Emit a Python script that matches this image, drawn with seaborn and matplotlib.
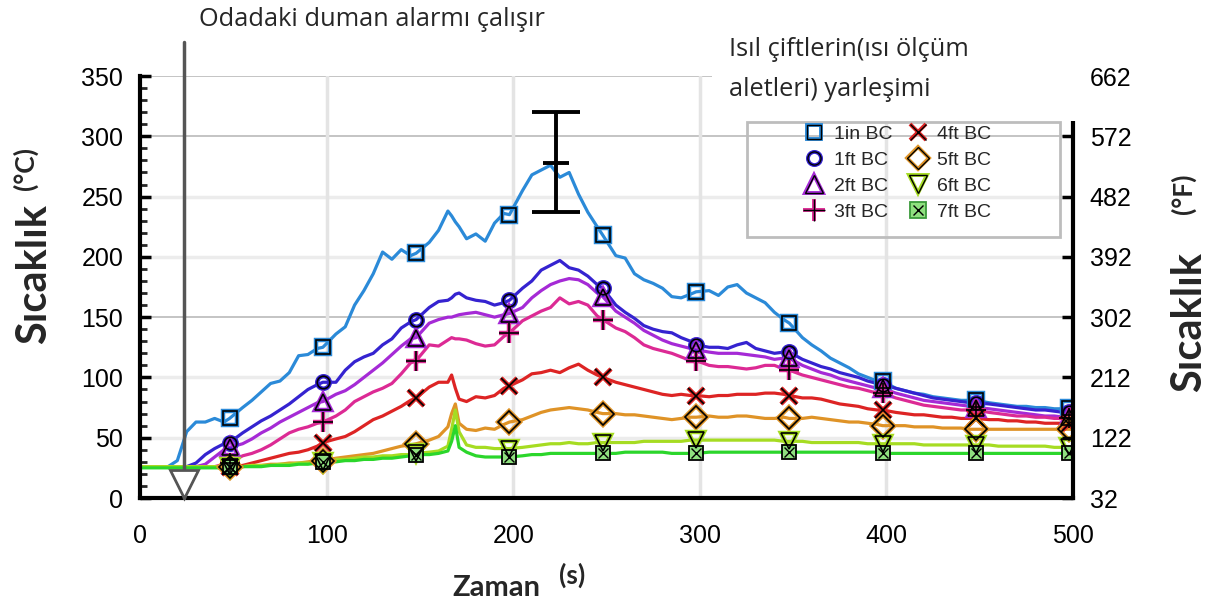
import matplotlib
matplotlib.use("Agg")
import matplotlib.pyplot as plt
import numpy as np
import pandas as pd
import seaborn as sns
from matplotlib.lines import Line2D
from matplotlib.patches import Rectangle

# zaman ekseni (s)
t = [0, 5, 10, 15, 20, 25, 30, 35, 40, 45,
     48, 55, 60, 65, 70, 75, 80, 85, 90, 95,
     98, 105, 110, 115, 120, 125, 130, 135, 140, 145,
     148, 155, 160, 165, 167, 169, 171, 175, 180, 185,
     190, 195, 198, 205, 210, 215, 220, 225, 230, 235,
     240, 245, 248, 255, 260, 265, 270, 275, 280, 285,
     290, 295, 298, 305, 310, 315, 320, 325, 330, 335,
     340, 345, 348, 355, 360, 365, 370, 375, 380, 385,
     390, 395, 398, 405, 410, 415, 420, 425, 430, 435,
     440, 445, 448, 455, 460, 465, 470, 475, 480, 485,
     490, 495, 498, 500]

bc_1in = [26, 26, 26, 26, 31, 55, 63, 63, 66, 63,
          66, 75, 81, 88, 95, 97, 104, 118, 119, 124,
          125, 136, 142, 160, 172, 186, 204, 198, 206, 201,
          203, 212, 222, 238, 234, 229, 225, 215, 219, 213,
          228, 236, 235, 255, 268, 272, 276, 266, 270, 252,
          237, 225, 218, 201, 199, 186, 181, 178, 174, 167,
          166, 169, 171, 172, 168, 175, 177, 170, 166, 162,
          154, 148, 145, 133, 127, 122, 116, 112, 108, 103,
          100, 97, 97, 91, 89, 87, 86, 84, 83, 82,
          81, 81, 81, 79, 78, 77, 76, 76, 75, 75,
          74, 74, 75, 73]
bc_1ft = [26, 26, 26, 26, 26, 26, 29, 36, 41, 45,
          46, 54, 59, 64, 68, 73, 78, 84, 90, 94,
          96, 96, 106, 113, 117, 120, 127, 132, 141, 146,
          148, 158, 163, 164, 166, 169, 170, 166, 164, 163,
          160, 162, 164, 174, 180, 189, 193, 197, 191, 189,
          184, 177, 174, 160, 154, 149, 143, 140, 138, 137,
          133, 130, 127, 125, 125, 124, 127, 129, 124, 122,
          120, 121, 121, 115, 112, 109, 107, 104, 102, 100,
          97, 95, 94, 91, 89, 87, 85, 83, 82, 81,
          80, 79, 79, 78, 77, 76, 75, 74, 73, 73,
          72, 71, 71, 71]
bc_2ft = [26, 26, 26, 26, 26, 26, 26, 28, 34, 40,
          42, 45, 49, 54, 58, 63, 67, 71, 75, 79,
          80, 86, 89, 94, 100, 106, 112, 119, 126, 132,
          133, 145, 148, 150, 150, 151, 152, 153, 154, 152,
          150, 152, 153, 158, 166, 172, 177, 180, 182, 181,
          177, 170, 167, 155, 150, 145, 139, 135, 131, 128,
          126, 124, 123, 121, 120, 120, 120, 119, 118, 117,
          115, 116, 116, 110, 107, 104, 102, 99, 97, 95,
          93, 91, 91, 87, 85, 83, 81, 80, 79, 78,
          77, 76, 75, 74, 73, 72, 71, 70, 69, 68,
          68, 67, 67, 67]
bc_3ft = [26, 26, 26, 26, 26, 26, 26, 26, 26, 28,
          29, 35, 37, 40, 44, 49, 54, 57, 59, 62,
          63, 68, 73, 80, 84, 88, 91, 95, 103, 112,
          114, 127, 126, 131, 133, 132, 132, 131, 128, 126,
          127, 134, 137, 147, 151, 155, 158, 166, 161, 163,
          160, 151, 148, 141, 138, 133, 127, 124, 122, 120,
          117, 114, 114, 110, 109, 109, 108, 107, 108, 110,
          110, 107, 106, 102, 100, 98, 96, 94, 92, 91,
          89, 87, 87, 83, 81, 79, 77, 76, 75, 74,
          73, 73, 73, 71, 70, 69, 68, 68, 67, 67,
          66, 66, 66, 65]
bc_4ft = [26, 26, 26, 26, 26, 26, 26, 26, 26, 26,
          26, 27, 29, 31, 33, 35, 37, 38, 40, 43,
          46, 49, 51, 55, 60, 65, 68, 72, 76, 81,
          83, 92, 96, 96, 102, 91, 82, 80, 84, 83,
          85, 91, 93, 98, 103, 104, 106, 104, 108, 111,
          106, 102, 100, 96, 94, 92, 90, 88, 86, 85,
          86, 85, 85, 84, 85, 85, 86, 86, 86, 87,
          87, 86, 85, 83, 83, 82, 80, 78, 77, 76,
          74, 73, 73, 71, 70, 69, 69, 68, 67, 67,
          66, 66, 66, 65, 65, 64, 64, 63, 63, 62,
          62, 62, 61, 61]
bc_5ft = [26, 26, 26, 26, 26, 26, 26, 26, 26, 26,
          26, 26, 27, 27, 28, 28, 29, 29, 30, 31,
          31, 33, 34, 35, 36, 37, 39, 41, 43, 44,
          45, 48, 51, 59, 70, 78, 62, 57, 56, 58,
          57, 61, 63, 65, 68, 71, 73, 74, 75, 74,
          73, 71, 70, 70, 69, 69, 68, 67, 66, 65,
          66, 67, 67, 68, 67, 67, 68, 68, 67, 66,
          66, 67, 66, 66, 67, 66, 65, 64, 63, 63,
          62, 61, 60, 60, 60, 59, 59, 59, 58, 58,
          58, 57, 57, 57, 57, 57, 57, 57, 57, 57,
          57, 57, 57, 57]
bc_6ft = [26, 26, 26, 26, 26, 26, 26, 26, 26, 26,
          26, 26, 27, 27, 27, 28, 28, 29, 29, 30,
          30, 32, 32, 33, 34, 34, 35, 35, 36, 36,
          37, 38, 39, 43, 57, 73, 55, 44, 42, 42,
          41, 41, 41, 42, 43, 44, 45, 45, 46, 45,
          45, 46, 46, 46, 46, 46, 47, 47, 47, 47,
          47, 48, 48, 48, 48, 48, 48, 48, 48, 48,
          48, 47, 47, 47, 46, 46, 46, 46, 46, 46,
          45, 45, 45, 45, 45, 45, 44, 44, 44, 44,
          44, 44, 44, 44, 43, 43, 43, 43, 43, 43,
          42, 42, 42, 42]
bc_7ft = [25, 25, 25, 25, 25, 25, 25, 25, 25, 25,
          26, 26, 26, 26, 27, 27, 27, 28, 28, 29,
          30, 30, 31, 31, 32, 32, 33, 33, 34, 35,
          36, 36, 37, 39, 47, 60, 42, 38, 35, 34,
          34, 34, 34, 35, 36, 36, 37, 37, 37, 37,
          37, 37, 37, 37, 38, 38, 38, 38, 38, 37,
          37, 37, 37, 38, 38, 38, 38, 38, 38, 38,
          38, 38, 38, 38, 38, 38, 38, 38, 38, 38,
          38, 38, 37, 37, 37, 37, 37, 37, 37, 37,
          37, 37, 37, 37, 37, 37, 37, 37, 37, 37,
          37, 37, 37, 36]

labels = ["1in BC", "1ft BC", "2ft BC", "3ft BC", "4ft BC", "5ft BC", "6ft BC", "7ft BC"]
series = [bc_1in, bc_1ft, bc_2ft, bc_3ft, bc_4ft, bc_5ft, bc_6ft, bc_7ft]
colors = ["#2b8ad8", "#3523d0", "#a52ad6", "#dc2a94", "#dd2424", "#df9327", "#a6dc22", "#2bd62b"]
markers = ["s", "o", "^", "+", "x", "D", "v", "s"]
msizes = [10, 9, 12, 15, 11, 11, 12, 10]
marker_t = [48, 98, 148, 198, 248, 298, 348, 398, 448, 498]

# duman alarmi ve hata cubugu
alarm_t = 23.5
alarm_mark = 12
err_t = [223]
err_mid = [278]
err_lo = [237]
err_hi = [320]

c_ticks = [0, 50, 100, 150, 200, 250, 300, 350]
f_ticks = [32, 122, 212, 302, 392, 482, 572, 662]
x_ticks = [0, 100, 200, 300, 400, 500]

df = pd.DataFrame({
    "t": t * len(labels),
    "temp": sum(series, []),
    "sensor": np.repeat(labels, len(t)),
})

sns.set_theme(style="white")
plt.rcParams["font.family"] = ["Liberation Sans", "DejaVu Sans"]

W, H = 1212, 603
fig = plt.figure(figsize=(W / 100, H / 100), dpi=100)
ax = fig.add_axes([140 / W, 1 - 498 / H, (1073 - 140) / W, (498 - 76) / H])

# izgara
for v in [350, 300, 150]:
    ax.axhline(v, color="#c4c4c4", lw=1.4, zorder=0)
for v in [250, 200, 100, 50]:
    ax.axhline(v, color="#ececec", lw=2.5, zorder=0)
for v in [100, 200, 300, 400]:
    ax.axvline(v, color="#e4e4e4", lw=2.5, zorder=0)

sns.lineplot(data=df, x="t", y="temp", hue="sensor", hue_order=labels,
             palette=dict(zip(labels, colors)), lw=2.3, legend=False,
             estimator=None, sort=False, ax=ax)

handles = []
for lab, col, m, ms in zip(labels, colors, markers, msizes):
    sub = df[(df.sensor == lab) & (df.t.isin(marker_t))]
    if lab == "7ft BC":
        ax.plot(sub.t, sub.temp, ls="none", marker="s", ms=ms, mfc="#8fe07f",
                mec="black", mew=1.3, zorder=5)
        ax.plot(sub.t, sub.temp, ls="none", marker="x", ms=ms * 0.7, mec="black",
                mew=1.0, zorder=6)
        h = (Line2D([], [], ls="none", marker="s", ms=11, mfc="#8fe07f", mec="#3a9a3a", mew=1.3),
             Line2D([], [], ls="none", marker="x", ms=7.5, mec="black", mew=1.0))
    else:
        ax.plot(sub.t, sub.temp, ls="none", marker=m, ms=ms, mfc="none",
                mec=col, mew=3.2, zorder=5)
        ax.plot(sub.t, sub.temp, ls="none", marker=m, ms=ms, mfc="none",
                mec="black", mew=1.2, zorder=6)
        h = (Line2D([], [], ls="none", marker=m, ms=ms * 1.05, mfc="none", mec=col, mew=2.8),
             Line2D([], [], ls="none", marker=m, ms=ms * 1.05, mfc="none", mec="black", mew=1.0))
    handles.append(h)

# hata cubugu
ax.errorbar(err_t, err_mid,
            yerr=[[m - lo for m, lo in zip(err_mid, err_lo)],
                  [hi - m for m, hi in zip(err_mid, err_hi)]],
            fmt="none", ecolor="black", elinewidth=2.8, capsize=17, capthick=2.8, zorder=7)
ax.plot(err_t, err_mid, ls="none", marker="_", ms=19, mew=2.8, color="black", zorder=7)

# duman alarmi cizgisi
ax.plot([alarm_t, alarm_t], [0, 378], color="#555555", lw=2.5, clip_on=False, zorder=4)
ax.plot([alarm_t], [alarm_mark], ls="none", marker="v", ms=20, mfc="white",
        mec="#555555", mew=2, zorder=8, clip_on=False)

ax.set_xlim(0, 500)
ax.set_ylim(0, 350)
ax.set_xticks(x_ticks)
ax.set_xticks(np.arange(0, 501, 20), minor=True)
ax.set_yticks(c_ticks)
ax.set_yticks(np.arange(0, 351, 10), minor=True)
ax.set_xlabel("")
ax.set_ylabel("")
ax.tick_params(axis="both", which="major", direction="in", length=8, width=2.5,
               labelsize=18, colors="black")
ax.tick_params(axis="both", which="minor", direction="in", length=5, width=2)
ax.tick_params(axis="x", pad=19)
ax.tick_params(axis="y", pad=12)
for s in ["left", "bottom"]:
    ax.spines[s].set_linewidth(3)
    ax.spines[s].set_color("black")
ax.spines["top"].set_visible(False)
ax.spines["right"].set_visible(False)

ax2 = ax.twinx()
ax2.set_ylim(32, 662)
ax2.set_yticks(f_ticks)
ax2.tick_params(axis="y", direction="in", length=8, width=2.5, labelsize=18, pad=12,
                colors="black")
ax2.grid(False)
for s in ["left", "bottom", "top"]:
    ax2.spines[s].set_visible(False)
ax2.spines["right"].set_linewidth(3)
ax2.spines["right"].set_color("black")

# lejant cercevesi ve lejant
fig.add_artist(Rectangle((747 / W, 1 - 237 / H), (1060 - 747) / W, (237 - 122) / H,
                         transform=fig.transFigure, fill=False, ec="#bdbdbd", lw=2))
fig.legend(handles, labels, ncol=2, loc="upper left",
           bbox_to_anchor=(790 / W, 1 - 112 / H), frameon=False,
           prop={"family": "Liberation Sans", "size": 14},
           handlelength=1.1, handletextpad=0.45, columnspacing=0.75, labelspacing=0.42,
           borderpad=0.2)

# ust sagdaki beyaz etiket kutusu
fig.add_artist(Rectangle((712 / W, 1 - 121 / H), (1085 - 712) / W, (121 - 28) / H,
                         transform=fig.transFigure, fc="white", ec="none", zorder=2))
fig.text(729 / W, 1 - 49 / H, "Isıl çiftlerin(ısı ölçüm", fontsize=18.3,
         family="Open Sans", va="center", ha="left", zorder=3)
fig.text(729 / W, 1 - 89 / H, "aletleri) yarleşimi", fontsize=18.3,
         family="Open Sans", va="center", ha="left", zorder=3)
fig.text(199 / W, 1 - 19 / H, "Odadaki duman alarmı çalışır", fontsize=18.3,
         family="Open Sans", va="center", ha="left")

# eksen etiketleri
fig.text(34 / W, 1 - 274 / H, "Sıcaklık", rotation=90, fontsize=30, fontweight="bold",
         family="Lato", ha="center", va="center")
fig.text(25 / W, 1 - 168 / H, "(°C)", rotation=90, fontsize=19, fontweight="bold",
         family="Lato", ha="center", va="center")
fig.text(1189 / W, 1 - 322 / H, "Sıcaklık", rotation=90, fontsize=30, fontweight="bold",
         family="Lato", ha="center", va="center")
fig.text(1183 / W, 1 - 194 / H, "(°F)", rotation=90, fontsize=19, fontweight="bold",
         family="Lato", ha="center", va="center")
fig.text(496 / W, 1 - 588 / H, "Zaman", fontsize=21, fontweight="bold",
         family="Lato", ha="center", va="center")
fig.text(572 / W, 1 - 575 / H, "(s)", fontsize=19, fontweight="bold",
         family="Lato", ha="center", va="center")

fig.savefig("out.png", dpi=100)
